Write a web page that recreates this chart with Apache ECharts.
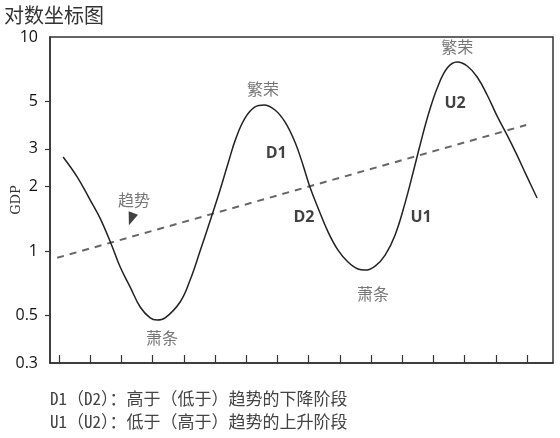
<!DOCTYPE html>
<html><head><meta charset="utf-8">
<script src="https://cdn.jsdelivr.net/npm/echarts@6/dist/echarts.min.js"></script>
<style>html,body{margin:0;padding:0;background:#fff}#c{width:560px;height:438px}</style>
</head><body><div id="c"></div>
<script>
// Cycle curve (x = period index, y = GDP on log scale)
const cycleX = [0.13,0.58,0.99,1.31,1.67,1.96,2.28,2.60,2.92,3.14,3.40,3.88,4.20,4.52,4.90,5.16,5.42,5.67,5.96,6.28,6.57,6.92,7.24,7.56,7.82,8.04,8.30,8.62,8.94,9.26,9.58,9.81,10.13,10.45,10.77,11.09,11.35,11.57,11.83,12.12,12.44,12.76,13.08,13.40,13.72,14.04,14.36,14.68,15.00,15.32];
const cycleY = [2.75,2.22,1.74,1.43,1.08,0.842,0.679,0.548,0.487,0.476,0.487,0.578,0.732,1.00,1.47,1.93,2.58,3.37,4.18,4.71,4.81,4.56,4.01,3.23,2.52,1.99,1.59,1.23,1.01,0.889,0.824,0.815,0.851,0.958,1.19,1.68,2.34,3.13,4.32,5.78,7.16,7.64,7.32,6.50,5.36,4.27,3.48,2.80,2.22,1.77];
// Trend line endpoints
const trendX = [-0.06, 14.97];
const trendY = [0.93, 3.88];
// Axis ticks
const yTickLabels = [0.3, 0.5, 1, 2, 3, 5, 10];
const yTicks = [0.5, 1, 2, 3, 5];
const xTicks = [0,1,2,3,4,5,6,7,8,9,10,11,12,13,14,15];
// Annotation texts
const phaseNames = ['D1','D2','U1','U2'];
const stateNames = ['繁荣','繁荣','萧条','萧条'];
const trendName = '趋势';
const notes = ['D1（D2）：高于（低于）趋势的下降阶段','U1（U2）：低于（高于）趋势的上升阶段'];

// annotation anchor positions (data space)
const phasePos = [[6.96,2.87],[7.85,1.43],[11.60,1.44],[12.69,4.91]];
const statePos = [[6.54,5.71],[12.76,8.98],[3.30,0.393],[10.06,0.63]];
const trendLabelPos = [2.40,1.73];
const arrowPos = [2.31,1.41];

const chart = echarts.init(document.getElementById('c'));
const textSeries = (pts, names, style) => ({
  type:'scatter', symbolSize:1, itemStyle:{color:'rgba(0,0,0,0)'}, silent:true,
  data: pts.map((p,i)=>({value:p, name:names[i]})),
  label:Object.assign({show:true, position:'inside', formatter:p=>p.name}, style),
  z:5
});
const noteFont = "'Noto Sans Mono CJK SC', 'Noto Sans CJK SC'";
chart.setOption({
  animation:false,
  title:{text:'对数坐标图', left:-1, top:0, textStyle:{fontSize:20, fontWeight:'normal', color:'#333', fontFamily:'Noto Sans CJK SC'}},
  grid:{left:50, right:7, top:37, bottom:75, show:true, borderColor:'#333', borderWidth:1.5, backgroundColor:'transparent', containLabel:false, outerBoundsMode:'none'},
  xAxis:{type:'value', min:-0.29, max:15.83,
    axisLine:{lineStyle:{color:'#333', width:1.5}},
    axisTick:{show:true, inside:true, length:8, customValues:xTicks, lineStyle:{color:'#333', width:1.2}},
    axisLabel:{show:false}, splitLine:{show:false}},
  yAxis:{type:'log', logBase:10, min:0.3, max:10,
    name:'GDP', nameLocation:'middle', nameGap:33, nameRotate:90, nameMoveOverlap:false,
    nameTextStyle:{fontFamily:'DejaVu Serif', fontSize:13, color:'#333', verticalAlign:'middle'},
    axisLine:{show:true, onZero:false, lineStyle:{color:'#333', width:1.5}},
    axisTick:{show:true, length:5, customValues:yTicks, lineStyle:{color:'#333', width:1.2}},
    axisLabel:{customValues:yTickLabels, margin:12, fontSize:16, fontWeight:500, color:'#111', fontFamily:'Open Sans'},
    splitLine:{show:false}, minorSplitLine:{show:false}},
  series:[
    {type:'line', data:trendX.map((x,i)=>[x,trendY[i]]), symbol:'none',
      lineStyle:{color:'#666', width:2, type:[7,6]}},
    {type:'line', data:cycleX.map((x,i)=>[x,cycleY[i]]), symbol:'none', smooth:0.4,
      lineStyle:{color:'#222', width:1.5}},
    textSeries(phasePos, phaseNames, {fontSize:16, fontWeight:'bold', color:'#111', fontFamily:'Open Sans'}),
    textSeries(statePos, stateNames, {fontSize:16, color:'#555', fontFamily:'Noto Sans CJK SC'}),
    textSeries([trendLabelPos], [trendName], {fontSize:16, color:'#555', fontFamily:'Noto Sans CJK SC'}),
    {type:'scatter', data:[arrowPos], symbol:'triangle', symbolSize:[10,13], symbolRotate:160,
      itemStyle:{color:'#111'}, silent:true, z:6}
  ],
  graphic:[
    {type:'text', left:50, top:390, style:{text:notes[0], fontSize:17, fill:'#444', fontFamily:noteFont}},
    {type:'text', left:50, top:413, style:{text:notes[1], fontSize:17, fill:'#444', fontFamily:noteFont}}
  ]
});
</script></body></html>
